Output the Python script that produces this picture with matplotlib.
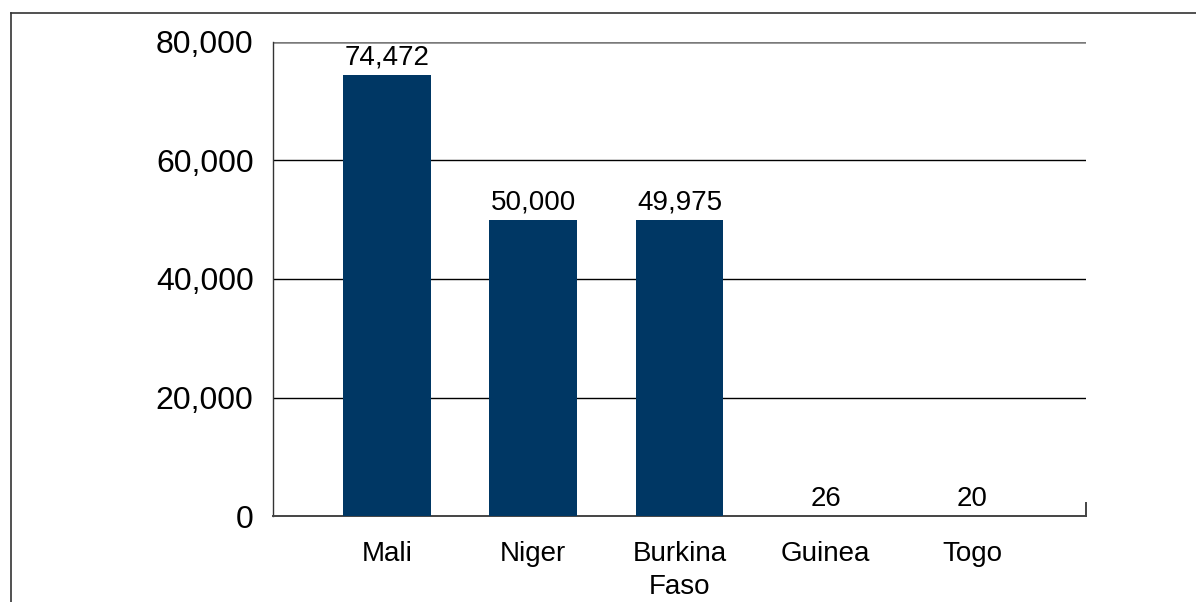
import matplotlib.pyplot as plt
from matplotlib.lines import Line2D

plt.rcParams['font.family'] = ['Liberation Sans', 'DejaVu Sans']

# Data
countries = ['Mali', 'Niger', 'Burkina\nFaso', 'Guinea', 'Togo']
values = [74472, 50000, 49975, 26, 20]
y_ticks = [0, 20000, 40000, 60000, 80000]

bar_color = '#003764'

fig = plt.figure(figsize=(11.96, 6.02), dpi=100)
ax = fig.add_axes([273 / 1196, 1 - 516 / 602, (1086 - 273) / 1196, (516 - 42) / 602])

x = range(len(countries))
bars = ax.bar(x, values, width=0.6, color=bar_color, zorder=3)

# value labels above bars
for xi, v in zip(x, values):
    ax.annotate(f"{v:,}", (xi, v), xytext=(0, 3), textcoords='offset points',
                ha='center', va='bottom', fontsize=20, color='black', zorder=4)

ax.set_xlim(-0.78, 4.78)
ax.set_ylim(0, 80000)
ax.set_yticks(y_ticks)
ax.set_yticklabels([f"{t:,}" for t in y_ticks], fontsize=23)
ax.set_xticks(list(x))
ax.set_xticklabels(countries, fontsize=20, linespacing=1.35)
ax.tick_params(axis='both', length=0)
ax.tick_params(axis='y', pad=14)
ax.tick_params(axis='x', pad=18)

# horizontal grid lines
for t in y_ticks[1:-1]:
    ax.axhline(t, color='black', linewidth=1.0, zorder=1)
ax.axhline(80000, color='#7a7a7a', linewidth=1.8, zorder=1)

for side in ['top', 'right']:
    ax.spines[side].set_visible(False)
ax.spines['left'].set_color('#333333')
ax.spines['bottom'].set_color('#444444')
ax.spines['left'].set_linewidth(1.0)
ax.spines['bottom'].set_linewidth(1.4)

# short end tick at right of the x axis
ax.axvline(4.78, ymin=0, ymax=0.027, color='#444444', linewidth=1.4, clip_on=False)

# outer frame (partly cut off)
fig.add_artist(Line2D([11 / 1196, 11 / 1196], [0, 1 - 13 / 602], color='#333333', linewidth=1.2))
fig.add_artist(Line2D([11 / 1196, 1], [1 - 13 / 602, 1 - 13 / 602], color='#333333', linewidth=1.2))

fig.savefig('out.png', dpi=100)
